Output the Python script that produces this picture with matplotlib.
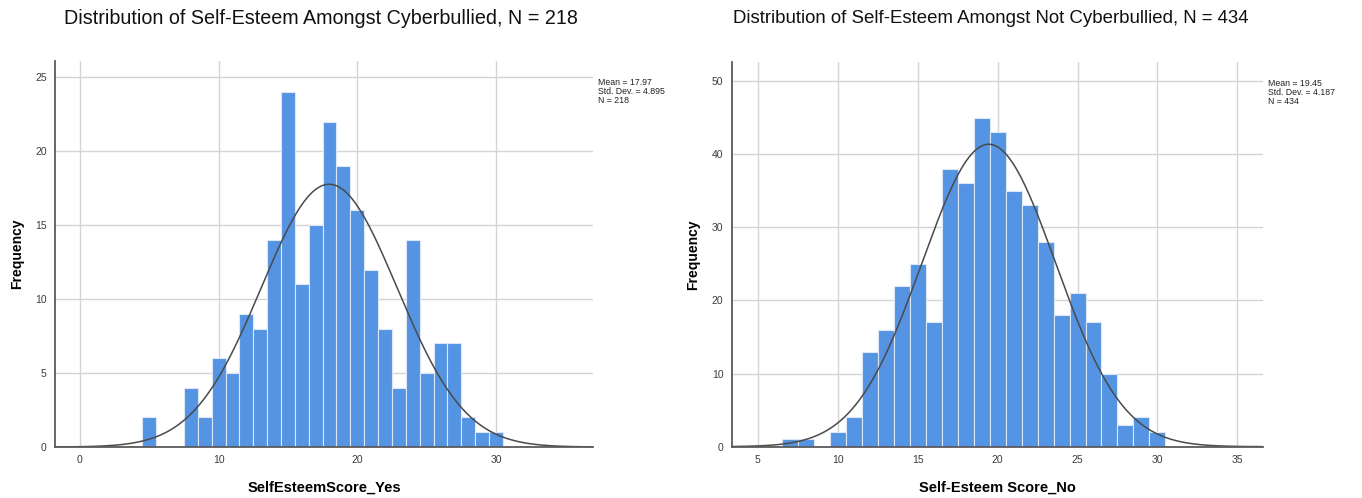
import numpy as np
import matplotlib.pyplot as plt

plt.rcParams['font.family'] = ['Liberation Sans', 'DejaVu Sans']

# frequency counts per integer score
yes_scores = list(range(5, 31))
yes_counts = [2, 0, 0, 4, 2, 6, 5, 9, 8, 14, 24, 11, 15, 22, 19, 16, 12, 8, 4, 14, 5, 7, 7, 2, 1, 1]
yes_mean, yes_sd, yes_n = 17.97, 4.895, 218

no_scores = list(range(7, 31))
no_counts = [1, 1, 0, 2, 4, 13, 16, 22, 25, 17, 38, 36, 45, 43, 35, 33, 28, 18, 21, 17, 10, 3, 4, 2]
no_mean, no_sd, no_n = 19.45, 4.187, 434

bar_color = '#5494e2'
grid_color = '#d4d4d4'
tick_color = '#3c3c3c'


def draw_hist(ax, scores, counts, mean, sd, n, xlim, ylim, xticks, yticks,
              title, xlabel, title_x, title_size):
    ax.bar(scores, counts, width=1.0, color=bar_color, edgecolor='#dce8f7',
           linewidth=0.8, zorder=2)
    xs = np.linspace(xlim[0], xlim[1], 400)
    pdf = n / (sd * np.sqrt(2 * np.pi)) * np.exp(-0.5 * ((xs - mean) / sd) ** 2)
    ax.plot(xs, pdf, color='#4a4a4a', linewidth=1.1, zorder=3)

    ax.set_xlim(*xlim)
    ax.set_ylim(*ylim)
    ax.set_xticks(xticks)
    ax.set_yticks(yticks)
    ax.grid(True, color=grid_color, linewidth=1.0, zorder=0)
    ax.set_axisbelow(True)
    ax.tick_params(length=0, labelsize=7.5, colors=tick_color, pad=6)
    for s in ['top', 'right']:
        ax.spines[s].set_visible(False)
    for s in ['left', 'bottom']:
        ax.spines[s].set_color('#5a5a5a')
        ax.spines[s].set_linewidth(1.3)
        ax.spines[s].set_zorder(4)

    ax.set_xlabel(xlabel, fontsize=10.5, fontweight='bold', labelpad=11)
    ax.set_ylabel('Frequency', fontsize=10, fontweight='bold', labelpad=8)

    ax.text(1.01, 0.955, f'Mean = {mean:g}\nStd. Dev. = {sd:g}\nN = {n}',
            transform=ax.transAxes, fontsize=6.3, va='top', ha='left',
            linespacing=1.0, color='#222222')
    fig.text(title_x, 0.962, title, fontsize=title_size, ha='center', va='center',
             color='#111111')


fig = plt.figure(figsize=(13.62, 4.98), dpi=100)
ax1 = fig.add_axes([0.0404, 0.1024, 0.395, 0.7751])
ax2 = fig.add_axes([0.5372, 0.1030, 0.3901, 0.7725])

draw_hist(ax1, yes_scores, yes_counts, yes_mean, yes_sd, yes_n,
          (-1.8, 37.0), (0, 26.1), [0, 10, 20, 30], [0, 5, 10, 15, 20, 25],
          'Distribution of Self-Esteem Amongst Cyberbullied, N = 218',
          'SelfEsteemScore_Yes', 0.236, 14.2)
draw_hist(ax2, no_scores, no_counts, no_mean, no_sd, no_n,
          (3.37, 36.6), (0, 52.6), [5, 10, 15, 20, 25, 30, 35], [0, 10, 20, 30, 40, 50],
          'Distribution of Self-Esteem Amongst Not Cyberbullied, N = 434',
          'Self-Esteem Score_No', 0.7275, 13.4)

fig.savefig('out.png', dpi=100)
